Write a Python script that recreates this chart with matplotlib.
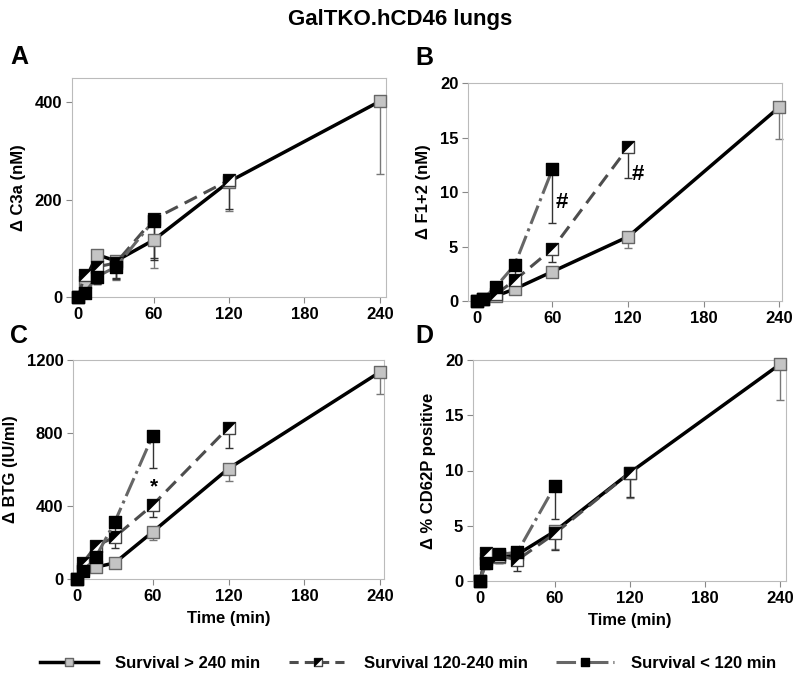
import matplotlib
matplotlib.use("Agg")
import matplotlib.pyplot as plt
from matplotlib.path import Path
from matplotlib.lines import Line2D
from matplotlib.legend_handler import HandlerTuple
import numpy as np

plt.rcParams['font.family'] = ['Liberation Sans', 'DejaVu Sans']
plt.rcParams['font.weight'] = 'bold'

# time points (min)
t_long = [0, 5, 15, 30, 60, 120, 240]
t_mid = [0, 5, 15, 30, 60, 120]
t_short = [0, 5, 15, 30, 60]

# panel A: delta C3a (nM)
c3a_long = [0, 31, 87, 74, 117, 237, 402]
c3a_long_err = [0, 10, 15, 40, 57, 60, 150]
c3a_mid = [0, 45, 62, 70, 160, 240]
c3a_mid_err = [0, 15, 35, 30, 80, 60]
c3a_short = [0, 8, 42, 62, 157]
c3a_short_err = [0, 5, 15, 25, 80]

# panel B: delta F1+2 (nM)
f12_long = [0, 0.2, 0.45, 1.1, 2.7, 5.9, 17.8]
f12_long_err = [0, 0.1, 0.2, 0.3, 0.4, 1.05, 2.9]
f12_mid = [0, 0.2, 0.6, 1.9, 4.8, 14.1]
f12_mid_err = [0, 0.1, 0.2, 0.5, 1.2, 2.8]
f12_short = [0, 0.2, 1.3, 3.3, 12.1]
f12_short_err = [0, 0.1, 0.4, 1.5, 4.9]

# panel C: delta BTG (IU/ml)
btg_long = [0, 55, 65, 88, 258, 605, 1135]
btg_long_err = [0, 10, 15, 20, 45, 68, 120]
btg_mid = [0, 90, 180, 230, 405, 830]
btg_mid_err = [0, 20, 30, 60, 65, 110]
btg_short = [0, 42, 120, 312, 785]
btg_short_err = [0, 10, 30, 60, 177]

# panel D: delta % CD62P positive
cd62_long = [0, 2.0, 2.2, 2.4, 4.5, 9.8, 19.6]
cd62_long_err = [0, 0.5, 0.6, 0.7, 1.6, 2.3, 3.2]
cd62_mid = [0, 2.5, 2.3, 1.9, 4.3, 9.8]
cd62_mid_err = [0, 0.5, 0.6, 1.0, 1.5, 2.2]
cd62_short = [0, 1.6, 2.4, 2.6, 8.6]
cd62_short_err = [0, 0.5, 0.8, 0.8, 3.0]

labels = ['Survival > 240 min', 'Survival 120-240 min', 'Survival < 120 min']

sq = Path([(-1, -1), (1, -1), (1, 1), (-1, 1), (-1, -1)],
          [Path.MOVETO, Path.LINETO, Path.LINETO, Path.LINETO, Path.CLOSEPOLY])
tri = Path([(-1, -1), (-1, 1), (1, 1), (-1, -1)],
           [Path.MOVETO, Path.LINETO, Path.LINETO, Path.CLOSEPOLY])

fig = plt.figure(figsize=(8, 6.89), dpi=100)
W, H = 800, 689


def add_ax(l, r, t, b):
    return fig.add_axes([l / W, 1 - b / H, (r - l) / W, (b - t) / H])


def panel(ax, long_, long_err, mid, mid_err, short, short_err, ylim, yticks, ylabel, xlim):
    ms = 9
    ax.errorbar(t_long, long_, yerr=[long_err, np.zeros(len(long_err))], fmt='none',
                ecolor='#777777', elinewidth=1, capsize=3, zorder=1, clip_on=False)
    ax.errorbar(t_mid, mid, yerr=[mid_err, np.zeros(len(mid_err))], fmt='none',
                ecolor='#333333', elinewidth=1, capsize=3, zorder=1, clip_on=False)
    ax.errorbar(t_short, short, yerr=[short_err, np.zeros(len(short_err))], fmt='none',
                ecolor='#333333', elinewidth=1, capsize=3, zorder=1, clip_on=False)
    ax.plot(t_long, long_, '-', color='black', lw=2.5, marker=sq, ms=ms,
            mfc='#c4c4c4', mec='#666666', mew=1, zorder=3, clip_on=False)
    ax.plot(t_mid, mid, '--', color='#4d4d4d', lw=2.2, dashes=(4.5, 2.5), marker=sq, ms=ms,
            mfc='white', mec='#444444', mew=1, zorder=4, clip_on=False)
    ax.plot(t_mid, mid, 'none', marker=tri, ms=ms, mfc='black', mec='black', mew=0.5,
            zorder=4, clip_on=False)
    ax.plot(t_short, short, '-.', color='#666666', lw=2.2, marker=sq, ms=ms,
            mfc='black', mec='black', mew=1, zorder=5, clip_on=False)
    ax.set_xlim(*xlim)
    ax.set_ylim(*ylim)
    ax.set_xticks([0, 60, 120, 180, 240])
    ax.set_yticks(yticks)
    for s in ax.spines.values():
        s.set_color('#bbbbbb')
    ax.tick_params(direction='out', length=4, color='#888888', labelsize=12, pad=3)
    for lab in ax.get_xticklabels() + ax.get_yticklabels():
        lab.set_fontweight('bold')
    ax.set_ylabel(ylabel, fontsize=12, fontweight='bold', labelpad=6)


axA = add_ax(72, 386, 78, 297)
panel(axA, c3a_long, c3a_long_err, c3a_mid, c3a_mid_err, c3a_short, c3a_short_err,
      (0, 450), [0, 200, 400], 'Δ C3a (nM)', (-5, 245))

axB = add_ax(468, 782, 83, 301)
panel(axB, f12_long, f12_long_err, f12_mid, f12_mid_err, f12_short, f12_short_err,
      (0, 20), [0, 5, 10, 15, 20], 'Δ F1+2 (nM)', (-7, 242))
axB.text(67, 9.0, '#', fontsize=16, fontweight='bold', ha='center', va='center')
axB.text(128, 11.6, '#', fontsize=16, fontweight='bold', ha='center', va='center')

axC = add_ax(73, 384, 360, 579)
panel(axC, btg_long, btg_long_err, btg_mid, btg_mid_err, btg_short, btg_short_err,
      (0, 1200), [0, 400, 800, 1200], 'Δ BTG (IU/ml)', (-3, 243))
axC.text(61, 505, '*', fontsize=15, fontweight='bold', ha='center', va='center')
axC.set_xlabel('Time (min)', fontsize=12, fontweight='bold', labelpad=5)

axD = add_ax(473, 786, 360, 581)
panel(axD, cd62_long, cd62_long_err, cd62_mid, cd62_mid_err, cd62_short, cd62_short_err,
      (0, 20), [0, 5, 10, 15, 20], 'Δ % CD62P positive', (-5.5, 245))
axD.set_xlabel('Time (min)', fontsize=12, fontweight='bold', labelpad=5)

fig.text(0.5, 1 - 20 / H, 'GalTKO.hCD46 lungs', ha='center', va='center',
         fontsize=16, fontweight='bold')
for letter, x, y in [('A', 10, 57), ('B', 415, 58), ('C', 10, 336), ('D', 415, 336)]:
    fig.text(x / W, 1 - y / H, letter, ha='left', va='center', fontsize=18, fontweight='bold')

h1 = Line2D([], [], color='black', lw=2.5, marker=sq, ms=6, mfc='#c4c4c4', mec='#666666')
h2a = Line2D([], [], color='#4d4d4d', lw=2.2, ls='--', dashes=(3, 2), marker=sq, ms=6,
             mfc='white', mec='#444444')
h2b = Line2D([], [], ls='none', marker=tri, ms=6, mfc='black', mec='black', mew=0.5)
h3 = Line2D([], [], color='#666666', lw=2.2, ls='-.', marker=sq, ms=6, mfc='black', mec='black')
fig.legend([h1, (h2a, h2b), h3], labels, loc='center', bbox_to_anchor=(408 / W, 1 - 663 / H),
           ncol=3, frameon=False, handlelength=3.5, handletextpad=1.0, columnspacing=1.7,
           handler_map={tuple: HandlerTuple(ndivide=1, pad=0)},
           prop={'weight': 'bold', 'size': 12})

fig.savefig('out.png', dpi=100)
